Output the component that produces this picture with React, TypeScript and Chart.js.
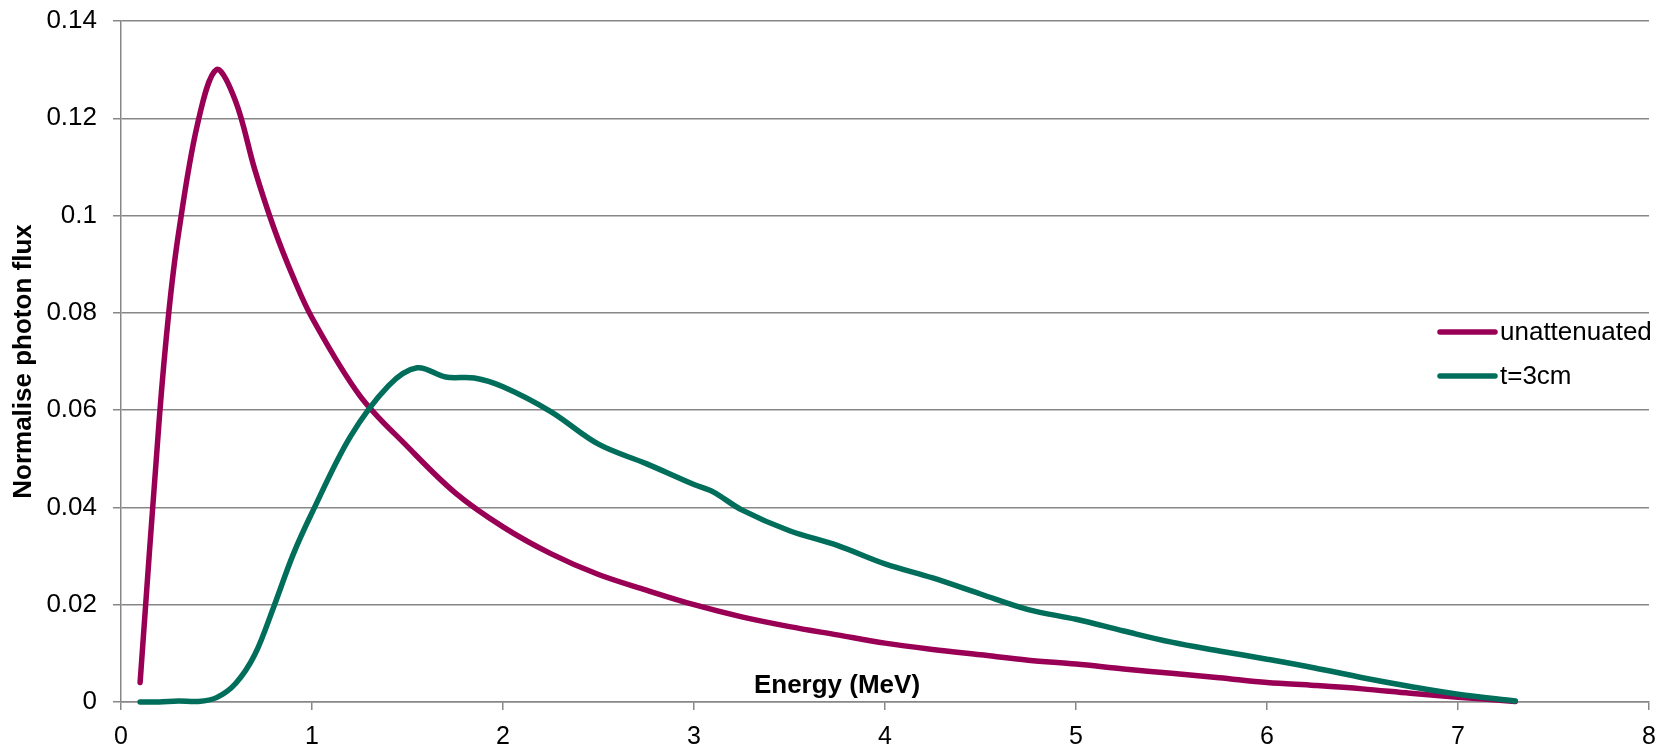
import React, { useEffect, useRef } from "react";
import { Chart, registerables } from "chart.js";

Chart.register(...registerables);

// ---- Data ----
const seriesLabels = ["unattenuated", "t=3cm"];

const unattenuatedEnergy = [
  0.1, 0.2, 0.25, 0.3, 0.4, 0.5, 0.6, 0.7, 0.8, 0.9, 1.0, 1.25, 1.5, 1.75,
  2.0, 2.25, 2.5, 2.75, 3.0, 3.25, 3.5, 3.75, 4.0, 4.25, 4.5, 4.75, 5.0, 5.25,
  5.5, 5.75, 6.0, 6.25, 6.5, 6.75, 7.0, 7.3,
];
const unattenuatedFlux = [
  0.004, 0.058, 0.08, 0.096, 0.1187, 0.13, 0.1235, 0.1095, 0.0975,
  0.0875, 0.079, 0.063, 0.0525, 0.043, 0.036, 0.0305, 0.0262, 0.023, 0.02, 0.0175,
  0.0155, 0.0138, 0.0121, 0.0108, 0.0097, 0.0086, 0.0078, 0.0068, 0.0059, 0.005,
  0.004, 0.0034, 0.0027, 0.0018, 0.001, 0.0001,
];

const attenuatedEnergy = [
  0.1, 0.2, 0.3, 0.4, 0.5, 0.6, 0.7, 0.8, 0.9, 1.0, 1.2, 1.4, 1.55,
  1.7, 1.85, 2.0, 2.25, 2.5, 2.75, 3.0, 3.1, 3.25, 3.5, 3.75, 4.0, 4.25,
  4.5, 4.75, 5.0, 5.25, 5.5, 5.75, 6.0, 6.25, 6.5, 6.75, 7.0, 7.3,
];
const attenuatedFlux = [
  0, 0, 0.0002, 0.0001, 0.0009, 0.0038, 0.0097, 0.0196, 0.0302, 0.0389,
  0.0545, 0.065, 0.0687, 0.0668, 0.0666, 0.0648, 0.0597, 0.053,
  0.049, 0.0447, 0.0432, 0.0395, 0.0352, 0.0322, 0.0284, 0.0255, 0.0222, 0.019,
  0.017, 0.0146, 0.0123, 0.0105, 0.0088, 0.007, 0.005, 0.0032, 0.0016, 0.0002,
];

const xTickLabels = ["0", "1", "2", "3", "4", "5", "6", "7", "8"];
const yTickLabels = ["0", "0.02", "0.04", "0.06", "0.08", "0.1", "0.12", "0.14"];

const xAxisTitle = "Energy (MeV)";
const yAxisTitle = "Normalise photon flux";

const seriesColors = ["#990055", "#006e5a"];

const FONT = "'Liberation Sans', Arial, Helvetica, sans-serif";
const GRID = "#878787";

const overlayPlugin = {
  id: "overlay",
  afterDraw(chart: any) {
    const { ctx, chartArea } = chart;
    ctx.save();
    // x-axis title (sits inside the plot, just above the axis)
    ctx.font = `bold 26px ${FONT}`;
    ctx.fillStyle = "#000";
    ctx.textAlign = "center";
    ctx.textBaseline = "alphabetic";
    ctx.fillText(xAxisTitle, chartArea.left + 716, chartArea.bottom - 9);

    // legend
    const lx0 = chartArea.right - 209;
    const lx1 = chartArea.right - 154;
    const ly = [chartArea.top + 311, chartArea.top + 355];
    chart.data.datasets.forEach((ds: any, i: number) => {
      ctx.strokeStyle = ds.borderColor;
      ctx.lineWidth = 5.5;
      ctx.lineCap = "round";
      ctx.beginPath();
      ctx.moveTo(lx0, ly[i]);
      ctx.lineTo(lx1, ly[i]);
      ctx.stroke();
      ctx.font = `26px ${FONT}`;
      ctx.fillStyle = "#000";
      ctx.textAlign = "left";
      ctx.textBaseline = "middle";
      ctx.fillText(ds.label, lx1 + 5, ly[i] + 1);
    });
    ctx.restore();
  },
};

export default function App() {
  const canvasRef = useRef<HTMLCanvasElement | null>(null);

  useEffect(() => {
    if (!canvasRef.current) return;
    const chart = new Chart(canvasRef.current, {
      type: "line",
      data: {
        datasets: [
          {
            label: seriesLabels[0],
            data: unattenuatedEnergy.map((x, i) => ({ x, y: unattenuatedFlux[i] })),
            borderColor: seriesColors[0],
            backgroundColor: seriesColors[0],
            borderWidth: 5.5,
            pointRadius: 0,
            tension: 0.35,
            borderCapStyle: "round",
            borderJoinStyle: "round",
            clip: false,
            order: 1,
          },
          {
            label: seriesLabels[1],
            data: attenuatedEnergy.map((x, i) => ({ x, y: attenuatedFlux[i] })),
            borderColor: seriesColors[1],
            backgroundColor: seriesColors[1],
            borderWidth: 5.5,
            pointRadius: 0,
            tension: 0.35,
            borderCapStyle: "round",
            borderJoinStyle: "round",
            clip: false,
            order: 0,
          },
        ],
      },
      options: {
        animation: false,
        responsive: true,
        maintainAspectRatio: false,
        layout: { padding: { top: 21, right: 17, left: 0, bottom: 0 } },
        plugins: {
          legend: { display: false },
          tooltip: { enabled: false },
        },
        scales: {
          x: {
            type: "linear",
            min: 0,
            max: 8,
            ticks: {
              stepSize: 1,
              padding: 12,
              color: "#000",
              font: { family: FONT, size: 25 },
              maxRotation: 0,
              callback: (v: any) => xTickLabels[Math.round(Number(v))] ?? "",
            },
            grid: {
              drawOnChartArea: false,
              drawTicks: true,
              tickLength: 8,
              color: GRID,
              lineWidth: 1.5,
            },
            border: { display: true, color: GRID, width: 1.5 },
            afterFit: (scale: any) => {
              scale.height = 43;
              scale.paddingLeft = 0;
              scale.paddingRight = 0;
            },
          },
          y: {
            type: "linear",
            min: 0,
            max: 0.14,
            ticks: {
              stepSize: 0.02,
              padding: 16,
              color: "#000",
              font: { family: FONT, size: 26 },
              callback: (v: any) => yTickLabels[Math.round(Number(v) / 0.02)] ?? "",
            },
            grid: {
              drawOnChartArea: true,
              drawTicks: true,
              tickLength: 8,
              color: GRID,
              lineWidth: 1.5,
            },
            border: { display: true, color: GRID, width: 1.5 },
            title: {
              display: true,
              text: yAxisTitle,
              color: "#000",
              font: { family: FONT, size: 26, weight: "bold" },
              padding: { top: 8, bottom: 0 },
            },
            afterFit: (scale: any) => {
              scale.width = 121;
              scale.paddingTop = 0;
              scale.paddingBottom = 0;
            },
          },
        },
      },
      plugins: [overlayPlugin],
    });
    return () => chart.destroy();
  }, []);

  return (
    <div
      style={{
        position: "absolute",
        left: 0,
        top: 0,
        width: 1666,
        height: 745,
        background: "#fff",
      }}
    >
      <canvas ref={canvasRef} />
    </div>
  );
}
